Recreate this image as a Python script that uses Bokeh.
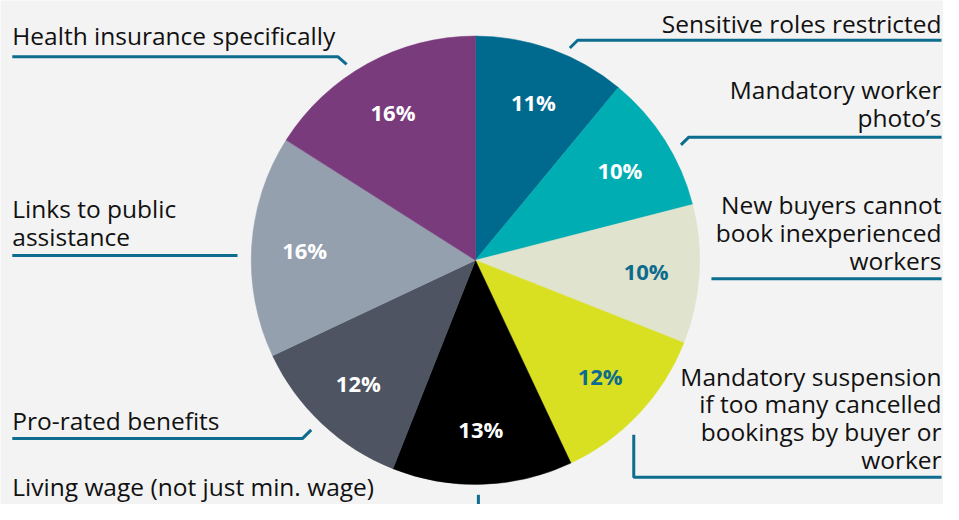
import numpy as np
from bokeh.plotting import figure
from bokeh.models import Range1d, ColumnDataSource
from bokeh.core.properties import value
from bokeh.embed import file_html
from bokeh.resources import INLINE

# ---- data ----
categories = [
    "Sensitive roles restricted",
    "Mandatory worker photo’s",
    "New buyers cannot book inexperienced workers",
    "Mandatory suspension if too many cancelled bookings by buyer or worker",
    "Living wage (not just min. wage)",
    "Pro-rated benefits",
    "Links to public assistance",
    "Health insurance specifically",
]
shares = [11, 10, 10, 12, 13, 12, 16, 16]
slice_colors = ["#006a8e", "#00adb2", "#e0e3cd", "#d9e021", "#000000", "#4e5461", "#95a0af", "#7a3b7d"]
pct_colors = ["#ffffff", "#ffffff", "#0d6b8e", "#0d6b8e", "#ffffff", "#ffffff", "#ffffff", "#ffffff"]

# label lines as they are broken in the chart
label_lines = [
    ["Sensitive roles restricted"],
    ["Mandatory worker", "photo’s"],
    ["New buyers cannot", "book inexperienced", "workers"],
    ["Mandatory suspension", "if too many cancelled", "bookings by buyer or", "worker"],
    ["Living wage (not just min. wage)"],
    ["Pro-rated benefits"],
    ["Links to public", "assistance"],
    ["Health insurance specifically"],
]

# ---- layout (reference pixel space, y measured from top) ----
W, H = 959, 520
def Y(v):
    return H - v

FONT = "Open Sans"
BG = "#f3f3f3"
LEAD = "#0e6c8e"
CX, CY, R = 483, 268, 228
LABEL_R = 174

label_first_baseline = [32, 100, 219, 396, 510, 442, 223, 45]
label_anchor = ["right", "right", "right", "right", "left", "left", "left", "left"]
LINE_STEP = 28.7
MID_OFF = 8.5   # distance from baseline to visual middle of the lowercase/caps
RIGHT_X, LEFT_X = 957, 12

leaders = [
    ([957, 587, 579], [41, 41, 49]),
    ([957, 700, 692], [141, 141, 149]),
    ([957, 723], [287, 287]),
    ([957, 644, 644], [492, 492, 448]),
    ([486, 486], [510, 522]),
    ([12, 307, 316], [452, 452, 443]),
    ([12, 241], [263, 263]),
    ([12, 343, 352], [58, 58, 66]),
]

p = figure(width=943, height=504, output_backend="svg", toolbar_location=None,
           x_range=Range1d(0, W), y_range=Range1d(0, H), min_border=0)
p.axis.visible = False
p.grid.visible = False
p.outline_line_color = None
p.background_fill_color = BG
p.border_fill_color = BG

# ---- pie ----
fr = np.array(shares, dtype=float) / sum(shares)
cum = np.cumsum(fr)
prev = cum - fr
start = np.pi / 2 - cum * 2 * np.pi
end = np.pi / 2 - prev * 2 * np.pi
mid = np.pi / 2 - (prev + fr / 2) * 2 * np.pi

src = ColumnDataSource(dict(cat=categories, share=shares, start=start, end=end,
                            color=slice_colors))
p.wedge(x=CX, y=Y(CY), radius=R, start_angle="start", end_angle="end",
        fill_color="color", line_color="color", line_width=0.5, source=src)

pct_src = ColumnDataSource(dict(
    x=CX + LABEL_R * np.cos(mid),
    y=Y(CY) + LABEL_R * np.sin(mid),
    t=[f"{v}%" for v in shares],
    c=pct_colors,
))
p.text(x="x", y="y", text="t", text_color="c", source=pct_src,
       text_font=value(FONT), text_font_style="bold", text_font_size="22px",
       text_align="center", text_baseline="middle")

# ---- category labels ----
tx, ty, tt, ta = [], [], [], []
for lines, b0, anc in zip(label_lines, label_first_baseline, label_anchor):
    for i, ln in enumerate(lines):
        tx.append(RIGHT_X if anc == "right" else LEFT_X)
        ty.append(Y(b0 + i * LINE_STEP - MID_OFF))
        tt.append(ln)
        ta.append(anc)
lab_src = ColumnDataSource(dict(x=tx, y=ty, t=tt, a=ta))
p.text(x="x", y="y", text="t", text_align="a", source=lab_src,
       text_font=value(FONT), text_font_size="24.5px", text_color="#111111",
       text_baseline="middle")

# ---- leader lines ----
p.multi_line(xs=[l[0] for l in leaders], ys=[[Y(v) for v in l[1]] for l in leaders],
             line_color=LEAD, line_width=3)

open("out.html", "w").write(file_html(p, INLINE))
